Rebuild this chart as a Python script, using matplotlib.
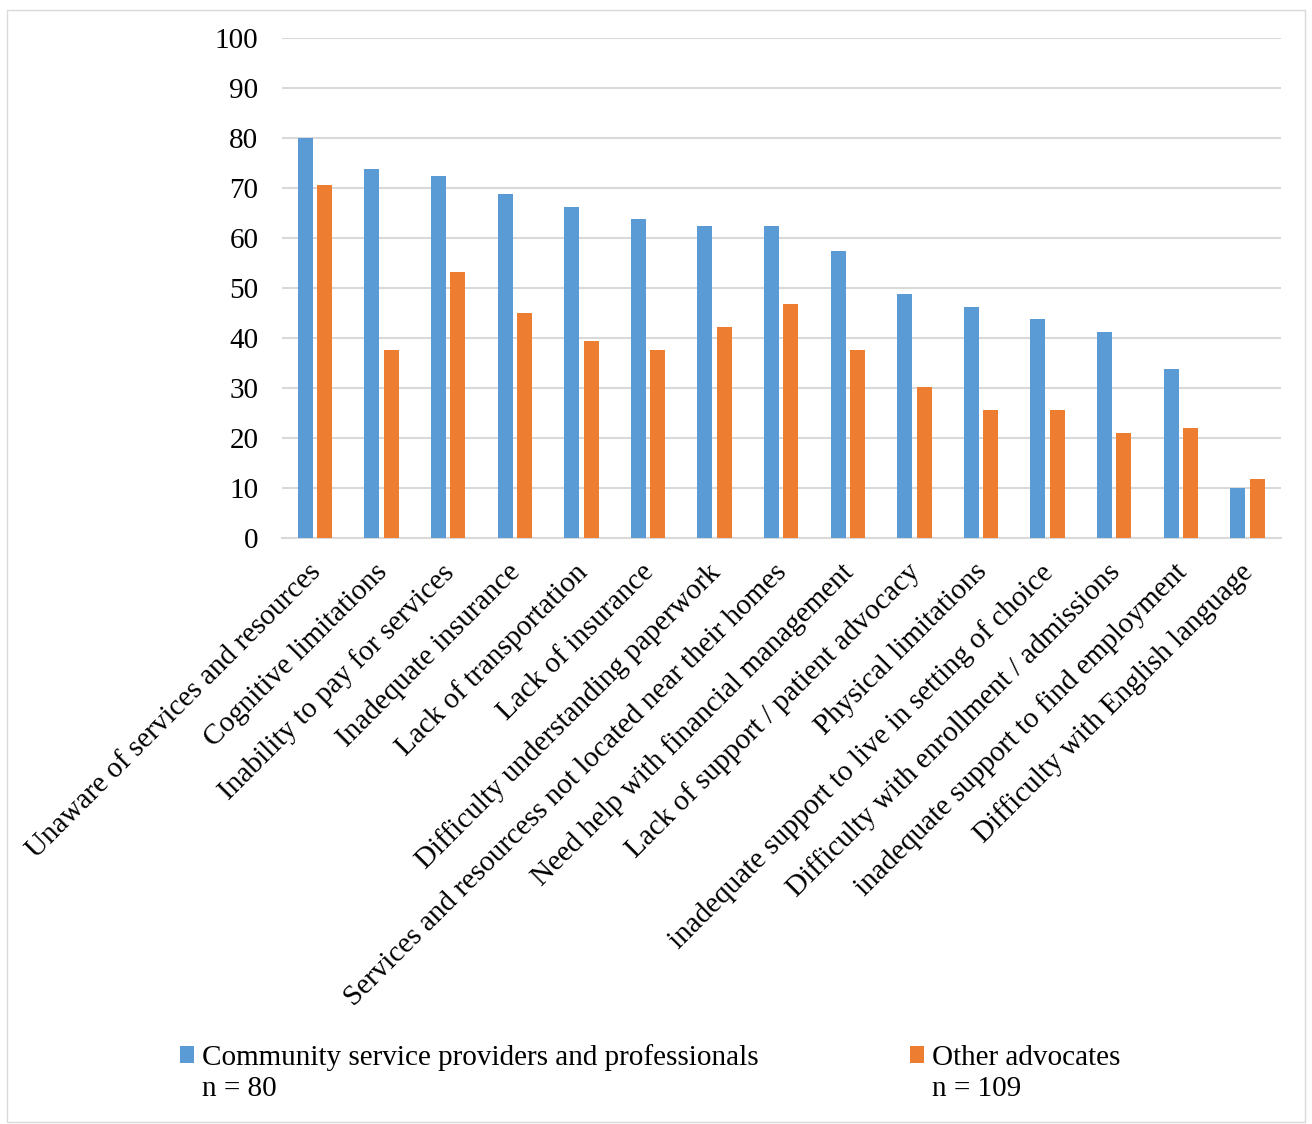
import matplotlib
matplotlib.use("Agg")
import matplotlib.pyplot as plt
import matplotlib.transforms as mtransforms
import numpy as np

# barriers to services, percent of respondents
categories = ["Unaware of services and resources",
              "Cognitive limitations",
              "Inability to pay for services",
              "Inadequate insurance",
              "Lack of transportation",
              "Lack of insurance",
              "Difficulty understanding paperwork",
              "Services and resourcess not located near their homes",
              "Need help with financial management",
              "Lack of support / patient advocacy",
              "Physical limitations",
              "inadequate support to live in setting of choice",
              "Difficulty with enrollment / admissions",
              "inadequate support to find employment",
              "Difficulty with English language"]
providers = [80, 73.75, 72.5, 68.75, 66.25, 63.75, 62.5, 62.5, 57.5, 48.75, 46.25, 43.75, 41.25, 33.75, 10]
advocates = [70.6, 37.6, 53.2, 45.0, 39.4, 37.6, 42.2, 46.8, 37.6, 30.3, 25.7, 25.7, 21.1, 22.0, 11.9]
series_names = ["Community service providers and professionals", "Other advocates"]
n_labels = ["n = 80", "n = 109"]

blue = "#5b9bd5"
orange = "#ed7d31"
fs = 21

plt.rcParams['font.family'] = ['Liberation Serif', 'DejaVu Serif']

fig = plt.figure(figsize=(13.12, 11.24), dpi=100)
ax = fig.add_axes([282/1312, 1 - 538/1124, (1281-282)/1312, 500/1124])

x = np.arange(len(categories))
w = 0.225
b1 = ax.bar(x - 0.15, providers, w, color=blue, zorder=3)
b2 = ax.bar(x + 0.14, advocates, w, color=orange, zorder=3)

ax.set_xlim(-0.5, len(categories) - 0.5)
ax.set_ylim(0, 100)
ax.set_yticks(np.arange(0, 101, 10))
ax.yaxis.grid(True, color="#d9d9d9", linewidth=1.5, zorder=0)
for s in ["top", "right", "left"]:
    ax.spines[s].set_visible(False)
ax.spines["bottom"].set_color("#d9d9d9")
ax.spines["bottom"].set_linewidth(1.5)
ax.tick_params(axis="y", length=0, labelsize=fs, pad=17)
ax.tick_params(axis="x", length=0, labelsize=fs, pad=15)
ax.set_xticks(x)
ax.set_xticklabels(categories, rotation=45, ha="right", rotation_mode="anchor")
# nudge the rotated labels a little to the left
shift = mtransforms.ScaledTranslation(-0.08, 0, fig.dpi_scale_trans)
for lab in ax.get_xticklabels():
    lab.set_transform(lab.get_transform() + shift)

fig.legend([b1, b2], series_names, loc="upper left",
           bbox_to_anchor=(168/1312, 1 - 1032/1124), ncol=2, frameon=False,
           fontsize=fs, handlelength=0.5, handleheight=0.5,
           handletextpad=0.25, columnspacing=5.2, borderaxespad=0)
fig.text(202/1312, 1 - 1089/1124, n_labels[0], fontsize=fs, va="center")
fig.text(932/1312, 1 - 1089/1124, n_labels[1], fontsize=fs, va="center")

# thin frame around the figure
fig.patches.append(plt.Rectangle((7/1312, 0.002), 1 - 14/1312, 1 - 12/1124,
                                 transform=fig.transFigure, fill=False,
                                 edgecolor="#d9d9d9", linewidth=1))

fig.savefig("out.png", dpi=100, facecolor="white")
